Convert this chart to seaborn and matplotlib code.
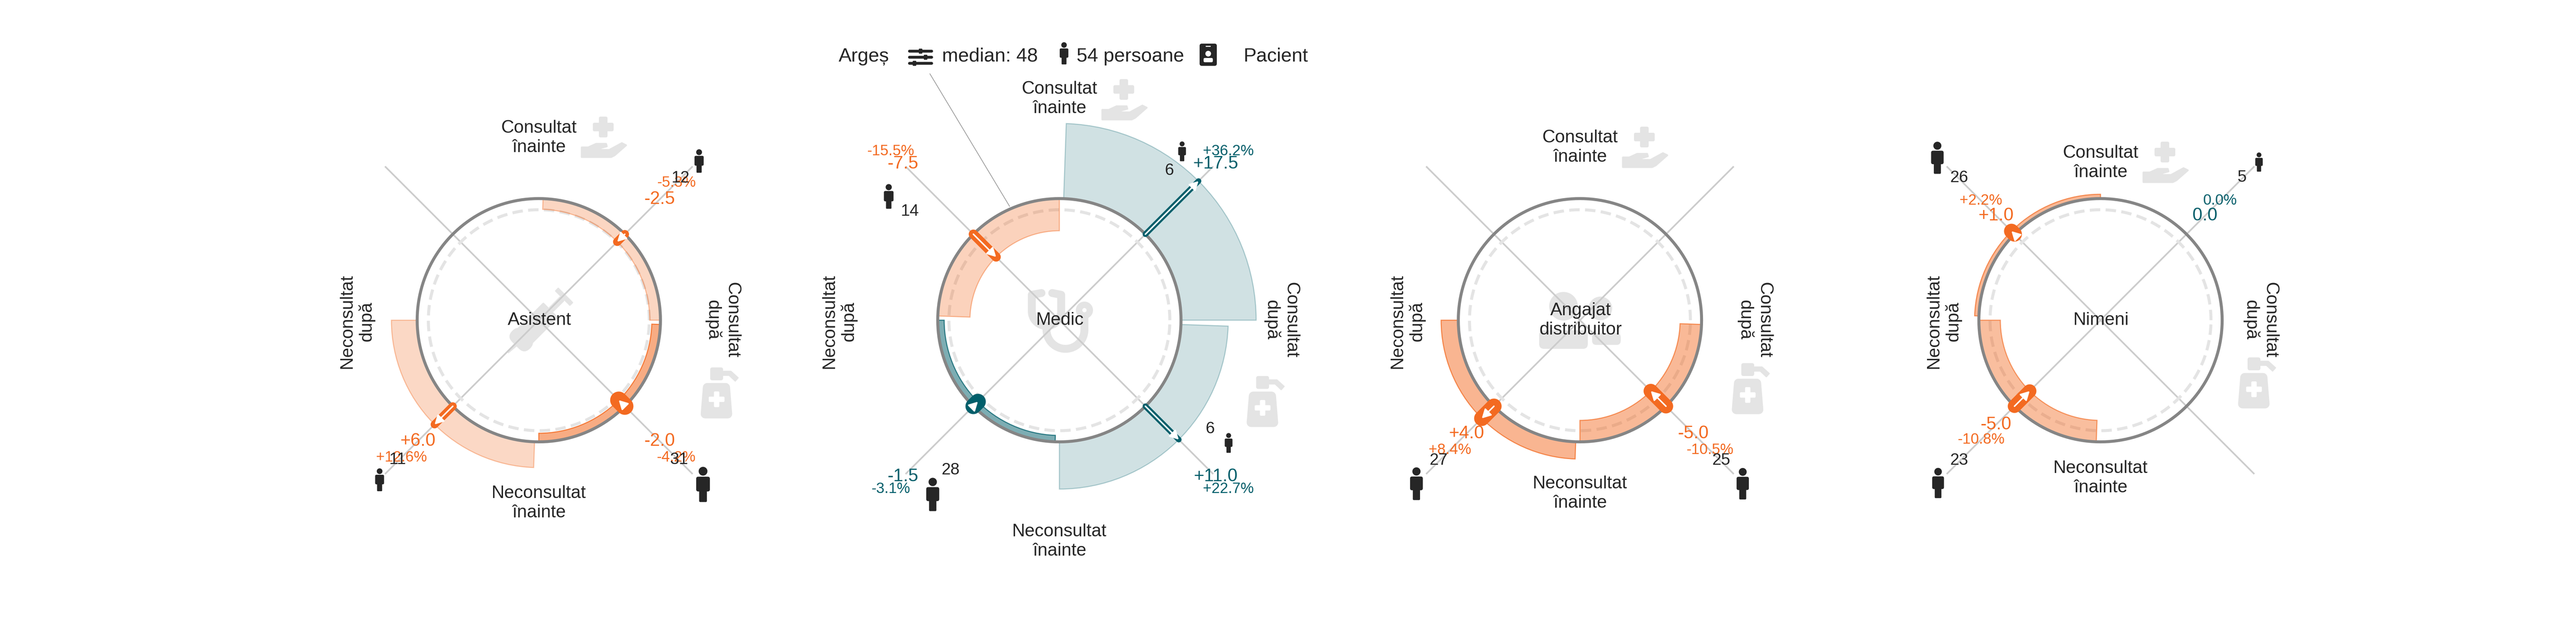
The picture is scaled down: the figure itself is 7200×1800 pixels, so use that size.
import numpy as np
import pandas as pd
import matplotlib
matplotlib.use("Agg")
import matplotlib.pyplot as plt
import seaborn as sns
from matplotlib.colors import to_rgba
from matplotlib.patches import Circle, FancyBboxPatch, Polygon
from matplotlib.transforms import Affine2D

# --- data: order of quadrants is TR, BR, BL, TL ---
roles = ["Asistent", "Medic", "Angajat\ndistribuitor", "Nimeni"]
delta_asistent = [-2.5, -2.0, 6.0, np.nan]
delta_medic = [17.5, 11.0, -1.5, -7.5]
delta_angajat = [np.nan, -5.0, 4.0, np.nan]
delta_nimeni = [0.0, np.nan, -5.0, 1.0]
pct_asistent = [-5.3, -4.2, 12.6, np.nan]
pct_medic = [36.2, 22.7, -3.1, -15.5]
pct_angajat = [np.nan, -10.5, 8.4, np.nan]
pct_nimeni = [0.0, np.nan, -10.8, 2.2]
n_asistent = [12, 31, 11, np.nan]
n_medic = [6, 6, 28, 14]
n_angajat = [np.nan, 25, 27, np.nan]
n_nimeni = [5, np.nan, 23, 26]
tone_asistent = ["o", "o", "o", "o"]
tone_medic = ["t", "t", "t", "o"]
tone_angajat = ["o", "o", "o", "o"]
tone_nimeni = ["t", "o", "o", "o"]
title_parts = ["Argeș", "median: 48", "54 persoane", "Pacient"]
label_top = "Consultat\nînainte"
label_right = "Consultat\ndupă"
label_bottom = "Neconsultat\nînainte"
label_left = "Neconsultat\ndupă"

deltas = [delta_asistent, delta_medic, delta_angajat, delta_nimeni]
pcts = [pct_asistent, pct_medic, pct_angajat, pct_nimeni]
counts = [n_asistent, n_medic, n_angajat, n_nimeni]
tones = [tone_asistent, tone_medic, tone_angajat, tone_nimeni]

# --- layout (pixels of the 7200x1800 picture) ---
W, H = 7200, 1800
DPI = 300
CX = [1506, 2961, 4416, 5871]
CY = 895
RING = 50.0
DASH_RING = 47.4
PX_PER_UNIT = 12.0
R_CENTER = RING - 340 / PX_PER_UNIT
R_EDGE = R_CENTER + 720 / PX_PER_UNIT
R_SPOKE = R_CENTER + 608 / PX_PER_UNIT
SIGN = [(1, -1), (1, 1), (-1, 1), (-1, -1)]
SPOKE_DEG = [45, -45, -135, 135]
BAR_MID_DEG = [44, -46, -136, 134]
BAR_WIDTH_DEG = 88
LABEL_K = [338, 437, 317, 292]
PCT_STEP = [46, 35, 46, 42]
NAME_OFF = [(-510, 511, -509, 513), (-619, 618, -616, 620),
            (-483, 484, -483, 488), (-440, 441, -439, 447)]
HAND_OFF = [-513, -618, -485, -443]
PUMP_OFF = [(506, 203), (577, 227), (478, 191), (438, 175)]
N_OFF = [[(396, -397), (392, 390), (-395, 390), None],
         [(307, -418), (421, 304), (-304, 419), (-418, -304)],
         [None, (395, 392), (-395, 392), None],
         [(395, -399), None, (-395, 392), (-395, -398)]]
ICON_OFF = [[(448, -445), (459, 459), (-445, 446), None],
            [(343, -472), (473, 343), (-354, 487), (-477, -346)],
            [None, (455, 457), (-457, 457), None],
            [(443, -442), None, (-454, 455), (-456, -454)]]

ORANGE = "#F36A21"
TEAL = "#005F6B"
INK = "#262626"
PALE = "#E4E4E4"
SPOKE = "#CCCCCC"
TONE = {"o": ORANGE, "t": TEAL}

sns.set_theme(style="white", context="paper")
plt.rcParams["font.family"] = ["Liberation Sans", "DejaVu Sans"]
plt.rcParams["text.color"] = INK

fig = plt.figure(figsize=(W / DPI, H / DPI), dpi=DPI, facecolor="white")


def px_axes(zorder):
    a = fig.add_axes([0, 0, 1, 1], zorder=zorder, facecolor="none")
    a.set_xlim(0, W)
    a.set_ylim(H, 0)
    a.set_axis_off()
    return a


back = px_axes(0)
top = px_axes(5)


def round_box(a, x0, y0, x1, y1, rad, color, **kw):
    a.add_patch(FancyBboxPatch((x0, y0), x1 - x0, y1 - y0, boxstyle=f"round,pad=0,rounding_size={rad}",
                               fc=color, ec="none", **kw))


def person(a, cx, cy, h, color=INK):
    y0 = cy - h / 2
    a.add_patch(Circle((cx, y0 + 0.125 * h), 0.125 * h, fc=color, ec="none"))
    round_box(a, cx - 0.195 * h, y0 + 0.28 * h, cx + 0.195 * h, y0 + 0.70 * h, 0.06 * h, color)
    round_box(a, cx - 0.11 * h, y0 + 0.5 * h, cx + 0.11 * h, y0 + h, 0.03 * h, color)


def cross(a, cx, cy, arm, thick, color):
    round_box(a, cx - arm / 2, cy - thick / 2, cx + arm / 2, cy + thick / 2, thick * 0.2, color)
    round_box(a, cx - thick / 2, cy - arm / 2, cx + thick / 2, cy + arm / 2, thick * 0.2, color)


def hand_icon(a, cx, cy):
    cross(a, cx - 2, cy - 27, 58, 24, PALE)
    pts = [(-62, 57), (-62, 30), (-44, 30), (-22, 20), (6, 20), (8, 27), (-10, 32), (-10, 37), (15, 37),
           (50, 18), (62, 24), (30, 52), (20, 57)]
    a.add_patch(Polygon([(cx + x, cy + y) for x, y in pts], fc=PALE, ec=PALE, lw=1.2, joinstyle="round"))


def pump_icon(a, cx, cy):
    round_box(a, cx - 27, cy - 71, cx + 9, cy - 35, 6, PALE)
    spout = [(9, -60), (31, -60), (51, -42), (43, -33), (26, -49), (9, -49)]
    a.add_patch(Polygon([(cx + x, cy + y) for x, y in spout], fc=PALE, ec=PALE, lw=0.8, joinstyle="round"))
    body = [(-35, -15), (16, -15), (22, 59), (-41, 59)]
    a.add_patch(Polygon([(cx + x, cy + y) for x, y in body], fc=PALE, ec=PALE, lw=6, joinstyle="round"))
    cross(a, cx - 9, cy + 18, 44, 15, "white")


def syringe_icon(a, cx, cy):
    rot = Affine2D().rotate_deg(-45).translate(cx, cy) + a.transData
    a.add_patch(Polygon([(-125, -2), (-90, -5), (-90, 5), (-125, 2)], fc=PALE, ec="none", transform=rot))
    a.add_patch(FancyBboxPatch((-95, -35), 45, 70, boxstyle="round,pad=0,rounding_size=22", fc=PALE, ec="none",
                               transform=rot))
    a.add_patch(FancyBboxPatch((-70, -30), 115, 60, boxstyle="round,pad=0,rounding_size=3", fc=PALE, ec="none",
                               transform=rot))
    a.add_patch(FancyBboxPatch((45, -9), 45, 18, boxstyle="round,pad=0,rounding_size=2", fc=PALE, ec="none",
                               transform=rot))
    a.add_patch(FancyBboxPatch((90, -30), 14, 60, boxstyle="round,pad=0,rounding_size=2", fc=PALE, ec="none",
                               transform=rot))


def stethoscope_icon(a, cx, cy):
    t = np.radians(np.linspace(180, 0, 40))
    xs = np.r_[-50, -77, -77, -36 + 41 * np.cos(t), 5, -20]
    ys = np.r_[-76, -71, -25, -25 + 41 * np.sin(t), -71, -76]
    a.plot(cx + xs, cy + ys, color=PALE, lw=5.3, solid_capstyle="round", solid_joinstyle="round")
    xs = np.r_[-36, 17 + 53 * np.cos(t), 70]
    ys = np.r_[16, 27 + 53 * np.sin(t), -15]
    a.plot(cx + xs, cy + ys, color=PALE, lw=5.3, solid_capstyle="butt")
    a.add_patch(Circle((cx + 70, cy - 28), 24, fc=PALE, ec="none"))
    a.add_patch(Circle((cx + 70, cy - 28), 6, fc="white", ec="none"))


def friends_icon(a, cx, cy):
    a.add_patch(Circle((cx - 46, cy - 39), 40, fc=PALE, ec="none"))
    round_box(a, cx - 114, cy + 28, cx + 22, cy + 80, 14, PALE)
    a.add_patch(Circle((cx + 57, cy - 33), 33, fc=PALE, ec="none"))
    round_box(a, cx + 34, cy + 36, cx + 114, cy + 69, 12, PALE)


def sliders_icon(a, cx, cy):
    for dy, knob in [(-16, 0), (1, 14), (18, -17)]:
        a.plot([cx - 31, cx + 31], [cy + dy, cy + dy], color=INK, lw=1.9, solid_capstyle="round")
        round_box(a, cx + knob - 5, cy + dy - 7, cx + knob + 5, cy + dy + 7, 2, INK)


def badge_icon(a, cx, cy):
    round_box(a, cx - 24, cy - 31, cx + 24, cy + 31, 6, INK)
    round_box(a, cx - 7, cy - 25, cx + 7, cy - 22, 1, "white")
    a.add_patch(Circle((cx, cy - 3), 8, fc="white", ec="none"))
    round_box(a, cx - 13, cy + 9, cx + 13, cy + 21, 4, "white")


def polar_line(ax, theta, r, **kw):
    df = pd.DataFrame({"theta": theta, "r": r})
    sns.lineplot(data=df, x="theta", y="r", ax=ax, estimator=None, sort=False, legend=False, **kw)


for p, role in enumerate(roles):
    cx = CX[p]
    ax = fig.add_axes([(cx - 720) / W, 1 - (CY + 720) / H, 1440 / W, 1440 / H], projection="polar",
                      zorder=2, facecolor="none")
    circle = np.radians(np.arange(0, 361))

    for deg in SPOKE_DEG:
        polar_line(ax, [np.radians(deg)] * 2, [R_CENTER, R_SPOKE], color=SPOKE, lw=1.1, zorder=1,
                   solid_capstyle="butt")
    polar_line(ax, circle, np.full(361, DASH_RING), color=PALE, lw=2.0, linestyle=(0, (3.5, 1.8)), zorder=2)

    for q in range(4):
        d, n = deltas[p][q], counts[p][q]
        if np.isnan(d) or np.isnan(n):
            continue
        col = TONE[tones[p][q]]
        alpha = 0.17 + 0.385 * (n - 5) / 26
        th_bar = np.radians(BAR_MID_DEG[q])
        th = np.radians(SPOKE_DEG[q])
        ax.bar(th_bar, d, width=np.radians(BAR_WIDTH_DEG), bottom=RING, color=to_rgba(col, alpha),
               edgecolor=to_rgba(col, min(1, alpha * 1.5)), linewidth=0.7, zorder=3)
        if d != 0:
            polar_line(ax, [th, th], [RING, RING + d], color=col, lw=0.312 * n + 1.88, zorder=5,
                       solid_capstyle="round")
            ax.annotate("", xy=(th, RING + d), xytext=(th, RING), zorder=6,
                        arrowprops=dict(arrowstyle="-|>,head_length=0.5,head_width=0.27", mutation_scale=10,
                                        color="white", lw=1.0, shrinkA=0, shrinkB=0, joinstyle="round"))

    polar_line(ax, circle, np.full(361, RING), color="#858585", lw=2.0, zorder=4)
    ax.set_ylim(R_CENTER, R_EDGE)
    ax.set_xlabel("")
    ax.set_ylabel("")
    ax.set_axis_off()

    # text and pictograms round the ring
    t_off, b_off, l_off, r_off = NAME_OFF[p]
    txt = dict(ha="center", va="center", fontsize=12, linespacing=1.2, color=INK)
    top.text(cx, CY + t_off, label_top, **txt)
    top.text(cx, CY + b_off, label_bottom, **txt)
    top.text(cx + l_off, CY + 3, label_left, rotation=90, **txt)
    top.text(cx + r_off, CY, label_right, rotation=270, **txt)
    top.text(cx + 2, CY, role, **txt)
    hand_icon(back, cx + 182, CY + HAND_OFF[p])
    pump_icon(back, cx + PUMP_OFF[p][0], CY + PUMP_OFF[p][1])

    for q in range(4):
        d, n = deltas[p][q], counts[p][q]
        if np.isnan(d) or np.isnan(n):
            continue
        col = TONE[tones[p][q]]
        sx, sy = SIGN[q]
        k = LABEL_K[p]
        k2 = k + PCT_STEP[p]
        d_txt = "0.0" if d == 0 else f"{d:+.1f}"
        pct_v = pcts[p][q]
        p_txt = "0.0%" if pct_v == 0 else f"{pct_v:+.1f}%"
        top.text(cx + sx * k, CY + sy * k, d_txt, color=col, fontsize=12, ha="center", va="center")
        top.text(cx + sx * k2, CY + sy * k2, p_txt, color=col, fontsize=10, ha="center", va="center")
        nx, ny = N_OFF[p][q]
        ix, iy = ICON_OFF[p][q]
        top.text(cx + nx, CY + ny, f"{int(n)}", color=INK, fontsize=11, ha="center", va="center")
        person(top, cx + ix, CY + iy, 45 + 1.72 * n)

syringe_icon(back, CX[0] + 2, CY + 3)
stethoscope_icon(back, CX[1], CY)
friends_icon(back, CX[2], CY)

# header above the Medic panel
head = dict(fontsize=13, ha="center", va="center", color=INK)
top.text(2415, 158, title_parts[0], **head)
sliders_icon(top, 2573, 159)
top.text(2767, 158, title_parts[1], **head)
person(top, 2974, 149, 62)
top.text(3159, 158, title_parts[2], **head)
badge_icon(top, 3377, 153)
top.text(3566, 158, title_parts[3], **head)
top.plot([2599, 2822], [206, 577], color="#888888", lw=0.4)

fig.savefig("out.png", dpi=DPI)
